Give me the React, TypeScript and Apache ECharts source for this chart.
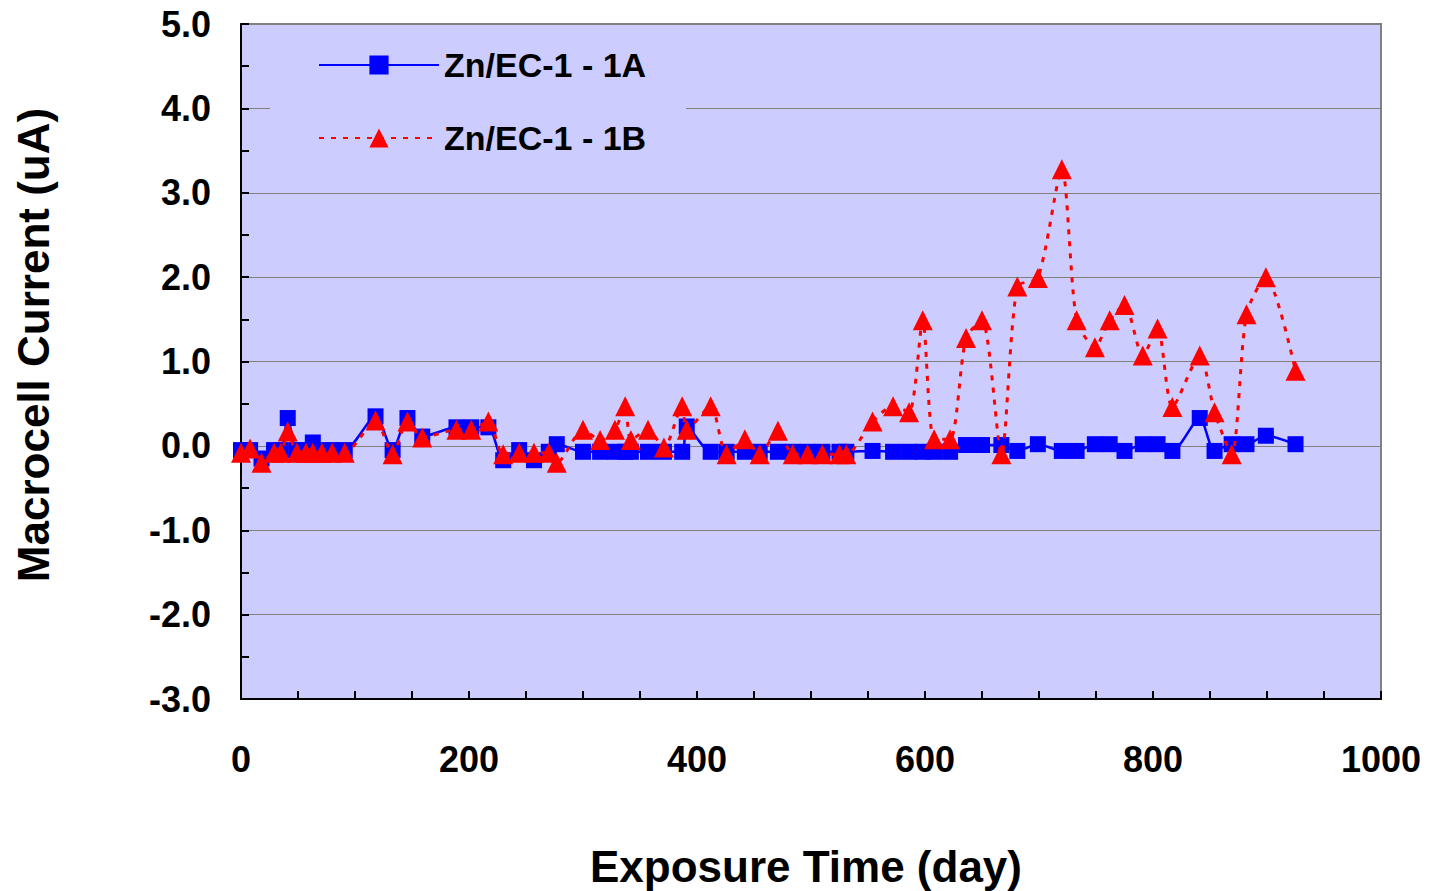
import React, { useEffect, useRef } from "react";
import * as echarts from "echarts";

const seriesNames = ["Zn/EC-1 - 1A", "Zn/EC-1 - 1B"];

const days = [
  0, 8, 18, 29, 35, 41, 49, 57, 63, 71, 80, 91, 118, 133, 146, 159, 189, 202,
  217, 230, 244, 257, 270, 277, 300, 315, 328, 337, 342, 357, 371, 387, 391,
  412, 426, 442, 455, 471, 484, 497, 510, 525, 531, 554, 572, 586, 598, 608,
  622, 636, 650, 667, 681, 699, 720, 733, 749, 762, 775, 791, 804, 817, 841,
  854, 869, 882, 899, 925,
];

const seriesA = [
  -0.05, -0.05, -0.15, -0.05, -0.05, 0.33, -0.05, -0.05, 0.04, -0.05, -0.05,
  -0.05, 0.35, -0.05, 0.33, 0.11, 0.22, 0.22, 0.22, -0.17, -0.05, -0.17, -0.07,
  0.02, -0.07, -0.07, -0.07, -0.07, -0.07, -0.07, -0.07, -0.07, 0.23, -0.07,
  -0.07, -0.07, -0.07, -0.07, -0.07, -0.07, -0.07, -0.07, -0.07, -0.06, -0.07,
  -0.07, -0.07, -0.07, -0.07, 0.01, 0.01, 0.01, -0.06, 0.02, -0.06, -0.06,
  0.02, 0.02, -0.06, 0.02, 0.02, -0.06, 0.33, -0.06, 0.02, 0.02, 0.12, 0.02,
];

const seriesB = [
  -0.08, -0.03, -0.2, -0.08, -0.08, 0.17, -0.08, -0.08, -0.08, -0.08, -0.08,
  -0.08, 0.3, -0.1, 0.29, 0.1, 0.19, 0.19, 0.29, -0.1, -0.08, -0.08, -0.08,
  -0.2, 0.19, 0.07, 0.19, 0.47, 0.07, 0.19, -0.02, 0.47, 0.19, 0.47, -0.1,
  0.08, -0.1, 0.18, -0.1, -0.1, -0.1, -0.1, -0.1, 0.29, 0.47, 0.4, 1.49, 0.08,
  0.08, 1.28, 1.49, -0.1, 1.89, 1.99, 3.28, 1.49, 1.17, 1.49, 1.67, 1.07, 1.39,
  0.46, 1.07, 0.4, -0.1, 1.56, 2.0, 0.89,
];

const xTitle = "Exposure Time (day)";
const yTitle = "Macrocell Current (uA)";

const FONT = "'Liberation Sans', Arial, sans-serif";

export default function App() {
  const ref = useRef<HTMLDivElement>(null);

  useEffect(() => {
    if (!ref.current) return;
    const chart = echarts.init(ref.current, null, { renderer: "svg" });
    const dataA = days.map((d, i) => [d, seriesA[i]]);
    const dataB = days.map((d, i) => [d, seriesB[i]]);

    chart.setOption({
      animation: false,
      backgroundColor: "#ffffff",
      grid: {
        left: 241,
        top: 24,
        width: 1140,
        height: 675,
        show: true,
        backgroundColor: "#CCCCFF",
        borderColor: "#808080",
        borderWidth: 2,
      },
      legend: {
        orient: "vertical",
        left: 270,
        top: 30,
        padding: [15, 40, 15, 48],
        backgroundColor: "#CCCCFF",
        itemWidth: 120,
        itemHeight: 24,
        itemGap: 33,
        data: seriesNames,
        textStyle: {
          fontFamily: FONT,
          fontWeight: "bold",
          fontSize: 34,
          color: "#000",
          lineHeight: 40,
        },
      },
      xAxis: {
        type: "value",
        min: 0,
        max: 1000,
        interval: 200,
        axisLine: { show: true, onZero: false, lineStyle: { color: "#000", width: 2 } },
        axisTick: { show: true, inside: true, length: 8, lineStyle: { color: "#000", width: 2 } },
        minorTick: { show: true, splitNumber: 4, length: 8, lineStyle: { color: "#000", width: 2 } },
        splitLine: { show: false },
        axisLabel: {
          margin: 42,
          fontFamily: FONT,
          fontWeight: "bold",
          fontSize: 36,
          color: "#000",
          formatter: (v: number) => String(v),
        },
      },
      yAxis: {
        type: "value",
        min: -3,
        max: 5,
        interval: 1,
        axisLine: { show: true, onZero: false, lineStyle: { color: "#000", width: 2 } },
        axisTick: { show: true, inside: true, length: 8, lineStyle: { color: "#000", width: 2 } },
        minorTick: { show: true, splitNumber: 2, length: 8, lineStyle: { color: "#000", width: 2 } },
        splitLine: { show: true, lineStyle: { color: "#808080", width: 1 } },
        axisLabel: {
          margin: 30,
          fontFamily: FONT,
          fontWeight: "bold",
          fontSize: 36,
          color: "#000",
          formatter: (v: number) => v.toFixed(1),
        },
      },
      graphic: [
        {
          type: "text",
          x: 806,
          y: 866,
          style: {
            text: xTitle,
            fontFamily: FONT,
            fontWeight: "bold",
            fontSize: 44,
            fill: "#000",
            textAlign: "center",
            textVerticalAlign: "middle",
          },
        },
        {
          type: "text",
          x: 33,
          y: 345,
          rotation: Math.PI / 2,
          style: {
            text: yTitle,
            fontFamily: FONT,
            fontWeight: "bold",
            fontSize: 44,
            fill: "#000",
            textAlign: "center",
            textVerticalAlign: "middle",
          },
        },
      ],
      series: [
        {
          name: seriesNames[0],
          type: "line",
          data: dataA,
          smooth: 0.25,
          symbol: "rect",
          symbolSize: 16,
          itemStyle: { color: "#0000FF" },
          lineStyle: { color: "#0000FF", width: 2.5 },
          z: 2,
        },
        {
          name: seriesNames[1],
          type: "line",
          data: dataB,
          smooth: 0.25,
          symbol: "triangle",
          symbolSize: 20,
          itemStyle: { color: "#FF0000" },
          lineStyle: { color: "#FF0000", width: 3, type: [5, 7] },
          z: 3,
        },
      ],
    });

    return () => chart.dispose();
  }, []);

  return (
    <div
      ref={ref}
      style={{ position: "absolute", left: 0, top: 0, width: 1435, height: 891 }}
    />
  );
}
